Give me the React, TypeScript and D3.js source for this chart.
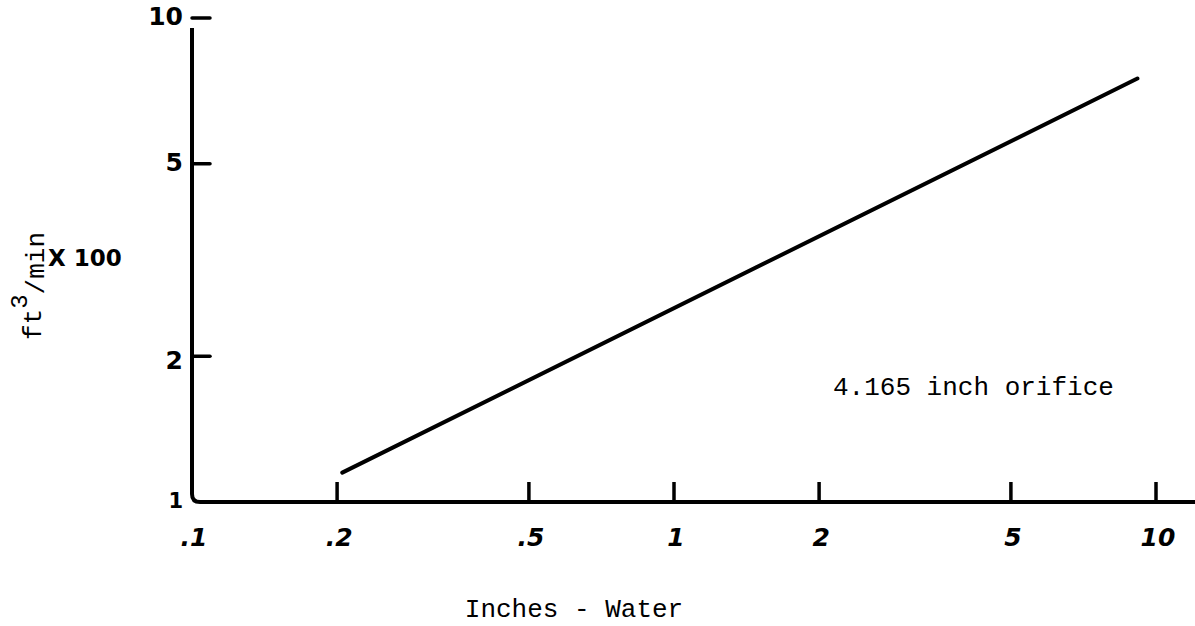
import React from "react";
import * as d3 from "d3";

// x: inches of water, y: ft3/min x 100
const xTicks = [0.1, 0.2, 0.5, 1, 2, 5, 10];
const xTickLabels = [".1", ".2", ".5", "1", "2", "5", "10"];
const yTicks = [10, 5, 2, 1];
const yTickLabels = ["10", "5", "2", "1"];
const flowX = [0.205, 9.15];
const flowY = [1.15, 7.5];

const width = 1195;
const height = 626;

const App = () => {
  const x = d3.scaleLog().domain([0.1, 10]).range([192, 1156]);
  const y = d3.scaleLog().domain([1, 10]).range([502, 18]);

  const x0 = x(0.1);
  const y0 = y(1);

  const line = d3
    .line<number>()
    .x((d, i) => x(flowX[i]))
    .y((d, i) => y(flowY[i]));

  const handFont = "'DejaVu Sans', sans-serif";
  const typeFont = "'Liberation Mono', 'Courier New', monospace";

  return (
    <svg
      width={width}
      height={height}
      viewBox={`0 0 ${width} ${height}`}
      style={{ position: "absolute", left: 0, top: 0, background: "#fff" }}
    >
      {/* axes with rounded corner */}
      <path
        d={`M${x0},${y(10) + 10} V${y0 - 8} Q${x0},${y0} ${x0 + 8},${y0} H${width}`}
        fill="none"
        stroke="#000"
        strokeWidth={4}
      />

      {/* y ticks */}
      {yTicks.map((v, i) => (
        <g key={"y" + v}>
          {v !== 1 && (
            <line
              x1={x0}
              x2={x0 + 18}
              y1={y(v)}
              y2={y(v)}
              stroke="#000"
              strokeWidth={3.5}
              strokeLinecap="round"
            />
          )}
          <text
            x={x0 - 9}
            y={y(v) + (v === 2 ? 6 : 0)}
            textAnchor="end"
            dominantBaseline="middle"
            fontFamily={handFont}
            fontWeight="bold"
            fontSize={v === 1 ? 21 : 25}
          >
            {yTickLabels[i]}
          </text>
        </g>
      ))}

      {/* x ticks */}
      {xTicks.map((v, i) => (
        <g key={"x" + v}>
          {v !== 0.1 && (
            <line
              x1={x(v)}
              x2={x(v)}
              y1={y0}
              y2={y0 - 20}
              stroke="#000"
              strokeWidth={3.5}
            />
          )}
          <text
            x={x(v) + 2}
            y={539}
            textAnchor="middle"
            dominantBaseline="middle"
            fontFamily={handFont}
            fontWeight="bold"
            fontStyle="italic"
            fontSize={25}
          >
            {xTickLabels[i]}
          </text>
        </g>
      ))}

      {/* flow line */}
      <path
        d={line(flowX) || ""}
        fill="none"
        stroke="#000"
        strokeWidth={4}
        strokeLinecap="round"
      />

      <text x={833} y={395} fontFamily={typeFont} fontSize={26} fill="#000">
        4.165 inch orifice
      </text>

      <text
        x={574}
        y={617}
        textAnchor="middle"
        fontFamily={typeFont}
        fontSize={26}
        fill="#000"
      >
        Inches - Water
      </text>

      {/* y axis label */}
      <text
        transform="translate(41, 340) rotate(-90)"
        fontFamily={typeFont}
        fontSize={26}
        fill="#000"
      >
        ft
        <tspan fontSize={24} dy={-14}>
          3
        </tspan>
        <tspan dy={17}>/min</tspan>
      </text>
      <text
        x={48}
        y={266}
        fontFamily={handFont}
        fontWeight="bold"
        fontSize={23}
        fill="#000"
      >
        X 100
      </text>
    </svg>
  );
};

export default App;
